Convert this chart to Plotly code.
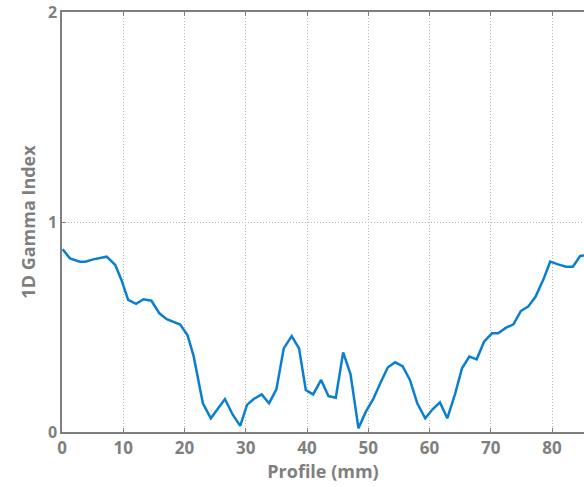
import plotly.graph_objects as go

# Profile positions (mm) and 1D gamma index values along the profile
profile_mm = [0.1, 1.3, 2.9, 3.8, 5.1, 6.2, 7.3, 8.7, 9.7, 10.8, 12.1, 13.3, 14.6,
              15.9, 17.1, 19.3, 20.5, 21.5, 23.0, 24.3, 25.5, 26.6, 27.9, 29.1,
              30.2, 31.3, 32.6, 33.8, 35.0, 36.2, 37.5, 38.7, 39.8, 41.0, 42.3,
              43.5, 44.7, 45.9, 47.1, 48.4, 49.6, 50.8, 52.0, 53.2, 54.4, 55.6,
              56.8, 58.0, 59.3, 60.5, 61.7, 62.9, 64.2, 65.3, 66.5, 67.7, 68.9,
              70.2, 71.2, 72.5, 73.7, 74.9, 76.1, 77.3, 78.6, 79.7, 81.0, 82.3,
              83.4, 84.6, 85.8]
gamma_index = [0.87, 0.827, 0.811, 0.811, 0.822, 0.827, 0.835, 0.795, 0.724, 0.629,
               0.61, 0.632, 0.625, 0.565, 0.537, 0.512, 0.46, 0.36, 0.137, 0.065,
               0.113, 0.157, 0.081, 0.029, 0.129, 0.157, 0.179, 0.137, 0.203, 0.398,
               0.457, 0.398, 0.2, 0.179, 0.248, 0.171, 0.163, 0.379, 0.276, 0.018,
               0.097, 0.156, 0.235, 0.308, 0.332, 0.313, 0.248, 0.137, 0.065, 0.108,
               0.141, 0.065, 0.184, 0.303, 0.359, 0.346, 0.43, 0.47, 0.47, 0.497,
               0.513, 0.576, 0.597, 0.644, 0.727, 0.811, 0.798, 0.787, 0.787, 0.838,
               0.842]

x_ticks = [0, 10, 20, 30, 40, 50, 60, 70, 80]
y_ticks = [0, 1, 2]

GREY = "#7f7f7f"
X_TICK_FONT = dict(family="Open Sans", size=17, color=GREY, weight="bold")
Y_TICK_FONT = dict(family="Open Sans", size=16, color=GREY, weight="bold")
TITLE_FONT = dict(family="Open Sans", size=18, color=GREY, weight="bold")
GRID = dict(showgrid=True, gridcolor="#b4b4b4", griddash="1px,2px", gridwidth=1)

fig = go.Figure(
    go.Scatter(
        x=profile_mm,
        y=gamma_index,
        mode="lines",
        line=dict(color="#0a7fd0", width=2.5),
        hoverinfo="skip",
    )
)

fig.update_layout(
    width=584,
    height=487,
    margin=dict(l=62, r=0, t=12, b=55),
    paper_bgcolor="white",
    plot_bgcolor="white",
    showlegend=False,
)

fig.update_xaxes(
    range=[0, 85.22],
    tickvals=x_ticks,
    ticks="inside",
    ticklen=4,
    tickcolor=GREY,
    showline=True,
    linecolor=GREY,
    linewidth=1.5,
    mirror="ticks",
    zeroline=False,
    tickfont=X_TICK_FONT,
    title=dict(text="Profile (mm)", font=TITLE_FONT, standoff=0),
    **GRID,
)

fig.update_yaxes(
    range=[0, 2],
    tickvals=y_ticks,
    ticks="inside",
    ticklen=4,
    tickcolor=GREY,
    showline=True,
    linecolor=GREY,
    linewidth=1.5,
    zeroline=False,
    tickfont=Y_TICK_FONT,
    title=dict(text="1D Gamma Index", font=TITLE_FONT, standoff=8),
    **GRID,
)

fig.write_html("out.html")
